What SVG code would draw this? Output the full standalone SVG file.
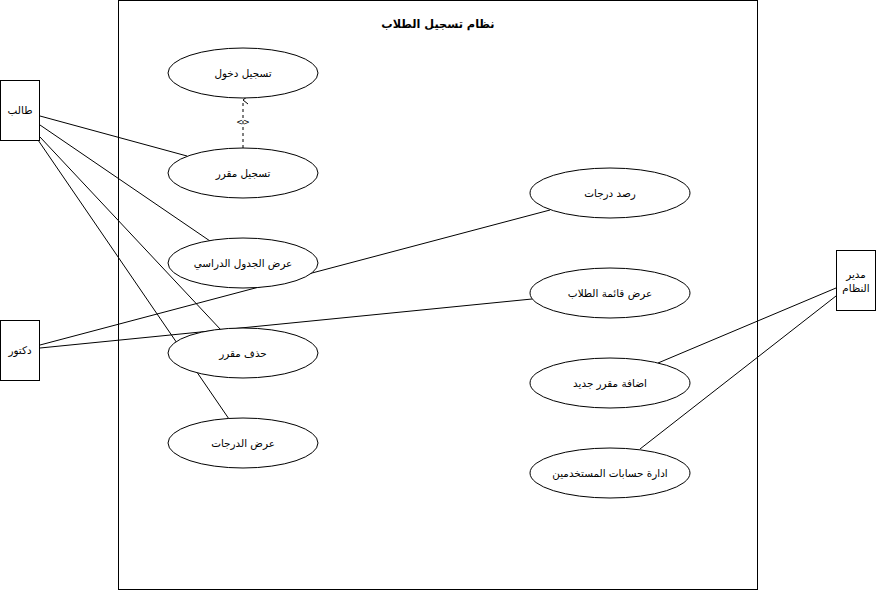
<svg xmlns="http://www.w3.org/2000/svg" width="877" height="591" viewBox="0 0 877 591">
<defs>
<style>
.box{fill:#fff;stroke:#000;stroke-width:1}
.uc{fill:#fff;stroke:#000;stroke-width:1}
.ln{stroke:#000;stroke-width:1;fill:none}
.dash{stroke:#000;stroke-width:1;fill:none;stroke-dasharray:3 3}
text{font-family:"DejaVu Sans","Noto Sans",sans-serif;font-size:10.4px;fill:#000;text-anchor:middle;dominant-baseline:central}
.title{font-size:11.3px;font-weight:bold}
.small{font-size:8px}
</style>
<marker id="open" markerWidth="10" markerHeight="10" refX="5" refY="1" orient="auto-start-reverse" markerUnits="userSpaceOnUse" viewBox="0 0 10 10">
<path d="M1,6 L5,1 L9,6" fill="none" stroke="#000" stroke-width="1"/>
</marker>
</defs>
<rect width="877" height="591" fill="#fff"/>
<g id="system">
<rect class="box" x="118.5" y="0.5" width="639" height="589"/>
<text class="title" x="438" y="24">نظام تسجيل الطلاب</text>
</g>
<g id="connectors">
<line class="ln" x1="40" y1="116" x2="187" y2="156"/>
<line class="ln" x1="40" y1="125" x2="210" y2="241"/>
<line class="ln" x1="40" y1="137" x2="221" y2="330"/>
<line class="ln" x1="38" y1="140" x2="229" y2="419"/>
<line class="ln" x1="40" y1="345" x2="550" y2="210"/>
<line class="ln" x1="40" y1="348" x2="532" y2="299"/>
<line class="ln" x1="836" y1="288" x2="658" y2="363"/>
<line class="ln" x1="836" y1="296" x2="640" y2="449"/>
<path class="dash" d="M243,148 L243,100" marker-end="url(#open)"/>
<text class="small" x="243" y="122">&lt;&gt;</text>
</g>
<g id="actor-student">
<rect class="box" x="0.5" y="80.5" width="39" height="60"/>
<text x="20" y="110">طالب</text>
</g>
<g id="actor-doctor">
<rect class="box" x="0.5" y="320.5" width="39" height="60"/>
<text x="20" y="350">دكتور</text>
</g>
<g id="actor-admin">
<rect class="box" x="836.5" y="250.5" width="39" height="60"/>
<text x="856" y="274">مدير</text>
<text x="856" y="288">النظام</text>
</g>
<g id="uc-login">
<ellipse class="uc" cx="243" cy="73" rx="75" ry="25"/>
<text x="243" y="73">تسجيل دخول</text>
</g>
<g id="uc-register">
<ellipse class="uc" cx="243" cy="173" rx="75" ry="25"/>
<text x="243" y="173">تسجيل مقرر</text>
</g>
<g id="uc-schedule">
<ellipse class="uc" cx="243" cy="263" rx="75" ry="25"/>
<text x="243" y="263">عرض الجدول الدراسي</text>
</g>
<g id="uc-drop">
<ellipse class="uc" cx="243" cy="353" rx="75" ry="25"/>
<text x="243" y="353">حذف مقرر</text>
</g>
<g id="uc-grades">
<ellipse class="uc" cx="243" cy="443" rx="75" ry="25"/>
<text x="243" y="443">عرض الدرجات</text>
</g>
<g id="uc-record">
<ellipse class="uc" cx="610" cy="193" rx="80" ry="25"/>
<text x="610" y="193">رصد درجات</text>
</g>
<g id="uc-list">
<ellipse class="uc" cx="610" cy="293" rx="80" ry="25"/>
<text x="610" y="293">عرض قائمة الطلاب</text>
</g>
<g id="uc-add">
<ellipse class="uc" cx="610" cy="383" rx="80" ry="25"/>
<text x="610" y="383">اضافة مقرر جديد</text>
</g>
<g id="uc-accounts">
<ellipse class="uc" cx="610" cy="473" rx="80" ry="25"/>
<text x="610" y="473">ادارة حسابات المستخدمين</text>
</g>
</svg>
